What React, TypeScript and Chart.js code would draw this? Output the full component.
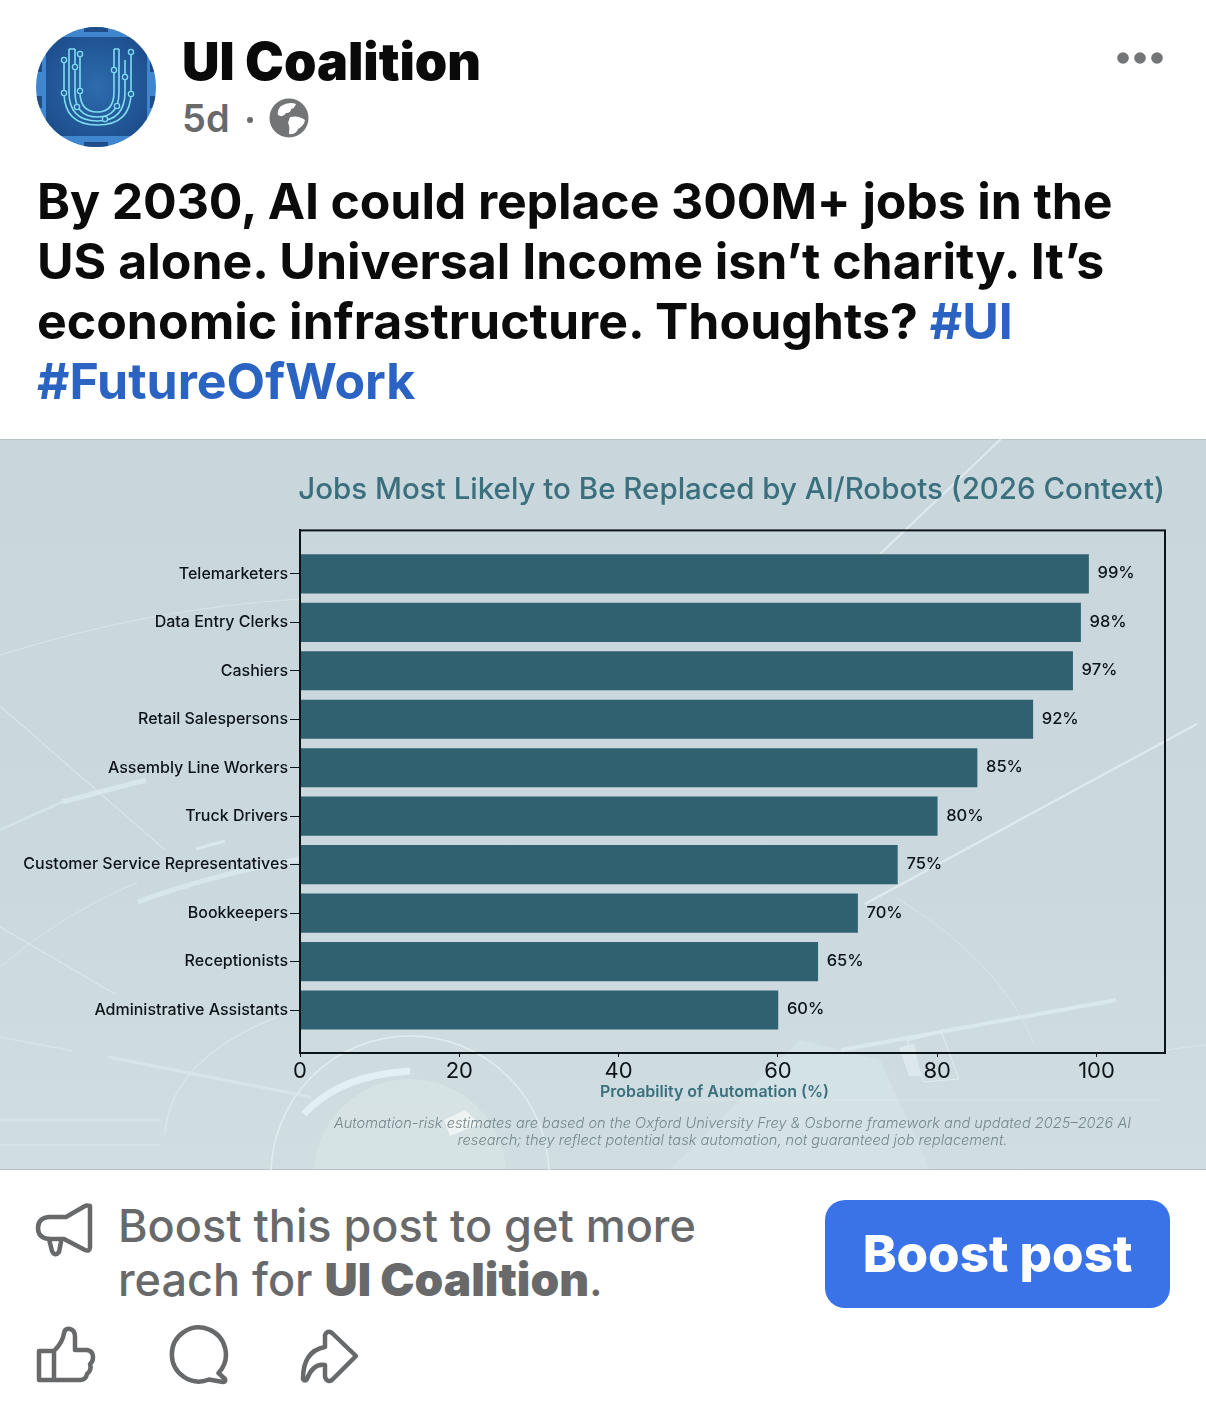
import React, { useEffect, useRef } from "react";
import { Chart, registerables } from "chart.js";

Chart.register(...registerables);

const jobs = [
  "Telemarketers",
  "Data Entry Clerks",
  "Cashiers",
  "Retail Salespersons",
  "Assembly Line Workers",
  "Truck Drivers",
  "Customer Service Representatives",
  "Bookkeepers",
  "Receptionists",
  "Administrative Assistants",
];
const probabilities = [99, 98, 97, 92, 85, 80, 75, 70, 65, 60];
const chartTitle = "Jobs Most Likely to Be Replaced by AI/Robots (2026 Context)";
const xAxisTitle = "Probability of Automation (%)";
const footnote = [
  "Automation-risk estimates are based on the Oxford University Frey & Osborne framework and updated 2025–2026 AI",
  "research; they reflect potential task automation, not guaranteed job replacement.",
];

const FONT = "Inter, 'Noto Sans', sans-serif";
const INK = "#0d1417";
const TEAL = "#3a6f7d";
const BAR = "#2f6170";
const GREY = "#68696b";

const framePlugin = {
  id: "frame",
  afterDatasetsDraw(chart: any) {
    const { ctx, chartArea: a } = chart;
    ctx.save();
    ctx.strokeStyle = INK;
    ctx.lineWidth = 2;
    ctx.strokeRect(a.left, a.top, a.right - a.left, a.bottom - a.top);
    ctx.restore();
  },
};

const valueLabelPlugin = {
  id: "valueLabels",
  afterDatasetsDraw(chart: any) {
    const { ctx } = chart;
    const meta = chart.getDatasetMeta(0);
    ctx.save();
    ctx.font = `500 16.5px ${FONT}`;
    ctx.fillStyle = INK;
    ctx.textBaseline = "middle";
    ctx.textAlign = "left";
    meta.data.forEach((bar: any, i: number) => {
      ctx.fillText(`${probabilities[i]}%`, bar.x + 9, bar.y - 0.5);
    });
    ctx.restore();
  },
};

const lowerTextPlugin = {
  id: "lowerText",
  afterDraw(chart: any) {
    const { ctx, chartArea: a } = chart;
    const mid = (a.left + a.right) / 2;
    ctx.save();
    ctx.textBaseline = "middle";
    ctx.textAlign = "center";
    ctx.font = `600 16px ${FONT}`;
    ctx.fillStyle = TEAL;
    ctx.fillText(xAxisTitle, mid - 18, a.bottom + 39);
    ctx.font = `italic 300 14.6px ${FONT}`;
    ctx.fillStyle = "#76878d";
    footnote.forEach((line, i) => ctx.fillText(line, mid, a.bottom + 71 + i * 16.5));
    ctx.restore();
  },
};

function BarChart() {
  const ref = useRef<HTMLCanvasElement>(null);
  useEffect(() => {
    const chart = new Chart(ref.current as HTMLCanvasElement, {
      type: "bar",
      data: {
        datasets: [
          {
            label: xAxisTitle,
            data: probabilities.map((v, i) => ({ x: v, y: i })),
            backgroundColor: BAR,
            barThickness: 38.5,
          },
        ],
      },
      options: {
        indexAxis: "y",
        animation: false,
        responsive: false,
        layout: { padding: { left: 0, right: 41, top: 0, bottom: 54 } },
        plugins: {
          legend: { display: false },
          tooltip: { enabled: false },
          title: {
            display: true,
            text: chartTitle,
            align: "end",
            color: TEAL,
            font: { family: FONT, size: 29.5, weight: "500" },
            padding: { top: 33, bottom: 23 },
          },
        },
        scales: {
          x: {
            type: "linear",
            min: 0,
            max: 108.6,
            afterFit(scale: any) {
              scale.height = 62;
            },
            border: { color: INK, width: 2 },
            grid: { drawOnChartArea: false, color: INK, tickLength: 4 },
            ticks: {
              stepSize: 20,
              includeBounds: false,
              maxRotation: 0,
              color: INK,
              padding: 1,
              font: { family: FONT, size: 22 },
            },
          },
          y: {
            type: "linear",
            reverse: true,
            offset: false,
            min: -0.897,
            max: 9.887,
            afterFit(scale: any) {
              scale.width = 300;
            },
            border: { color: INK, width: 2 },
            grid: { drawOnChartArea: false, color: INK, tickLength: 10, offset: false },
            ticks: {
              stepSize: 1,
              includeBounds: false,
              color: INK,
              padding: 2,
              autoSkip: false,
              font: { family: FONT, size: 16, weight: "500" },
              callback: (v: any) => jobs[v as number] ?? "",
            },
          },
        },
      },
      plugins: [framePlugin, valueLabelPlugin, lowerTextPlugin],
    } as any);
    return () => chart.destroy();
  }, []);
  return (
    <canvas
      ref={ref}
      width={1206}
      height={730}
      style={{ position: "absolute", left: 0, top: 439, width: 1206, height: 730, display: "block" }}
    />
  );
}

function Text({ x, y, size, weight, color, children, spacing }: any) {
  return (
    <div
      style={{
        position: "absolute",
        left: x,
        top: y,
        fontFamily: FONT,
        fontSize: size,
        fontWeight: weight,
        color,
        lineHeight: 1,
        whiteSpace: "nowrap",
        letterSpacing: spacing ?? 0,
      }}
    >
      {children}
    </div>
  );
}

function Backdrop() {
  return (
    <svg
      width={1206}
      height={731}
      viewBox="0 439 1206 731"
      style={{ position: "absolute", left: 0, top: 439, display: "block" }}
      fill="none"
    >
      <defs>
        <linearGradient id="panel" x1="0" y1="0" x2="0" y2="1">
          <stop offset="0" stopColor="#c9d7dc" />
          <stop offset="0.6" stopColor="#cbd9de" />
          <stop offset="1" stopColor="#d0dee2" />
        </linearGradient>
      </defs>
      <rect x={0} y={439} width={1206} height={731} fill="url(#panel)" />
      <path d="M670 1169L800 1040L880 1060L930 1169Z" fill="#d6e4e8" opacity={0.7} />
      <circle cx={410} cy={1175} r={96} fill="#dbe6e6" opacity={0.6} />
      <rect x={0} y={439} width={1206} height={1} fill="#b5c3c7" />
      <rect x={0} y={1169} width={1206} height={1} fill="#b5c0c4" />
      <g stroke="#e4eef0" strokeWidth={2} opacity={0.85}>
        <path d="M1001 439L880 554" />
        <path d="M1197 724L1049 804L865 904" />
        <path d="M0 655Q150 608 300 599" strokeWidth={1} opacity={0.7} />
        <path d="M0 706L165 850" strokeWidth={1} />
      </g>
      <path d="M62 802L146 780" stroke="#dff0f3" strokeWidth={5} opacity={0.6} />
      <path d="M0 830L62 802" stroke="#dcedf1" strokeWidth={3} opacity={0.5} />
      <path d="M196 849L225 841" stroke="#dcebef" strokeWidth={3} opacity={0.8} />
      <path d="M138 902Q210 875 300 859" stroke="#d9e9ed" strokeWidth={5} opacity={0.8} />
      <path d="M841 1050L1116 1000" stroke="#dbeaee" strokeWidth={4} opacity={0.85} />
      <path d="M1165 1050L1206 1045" stroke="#dbe7ea" strokeWidth={1} />
      <g stroke="#dbe7ea" strokeWidth={1.5} opacity={0.8}>
        <path d="M0 967Q60 915 138 882" strokeWidth={1} />
        <path d="M0 927L115 994" />
        <path d="M108 1057L311 1097" strokeWidth={3} />
        <path d="M0 1037L73 1051" />
        <path d="M165 1134Q170 1060 277 1017" />
        <path d="M0 1120L160 1120" />
        <path d="M0 1145L160 1145" />
        <path d="M895 897Q1000 960 1034 1044" strokeWidth={1} />
        <path d="M660 1100L1160 1100" strokeWidth={1} />
      </g>
      <path d="M304 1114Q340 1075 410 1071" stroke="#e3f0f3" strokeWidth={7} />
      <circle cx={410} cy={1175} r={139} stroke="#e1ecee" strokeWidth={1.5} />
      <path d="M444 1120L465 1110L480 1124L450 1136Z" fill="#eef4f3" />
      <path d="M907 1041L941 1031L959 1079L924 1082Z" stroke="#e1ecee" strokeWidth={1} />
      <path d="M899 1047L914 1044L921 1076L909 1076Z" fill="#dce8eb" />
    </svg>
  );
}

function Avatar() {
  const tracks = [
    "M64 60V92Q64 125 97.5 125Q131 125 131 92V52",
    "M69 49V92Q69 121 97.5 121Q125 121 125 92V60",
    "M75 49V92Q75 117 97.5 117Q119 117 119 92V49",
    "M80 54V92Q80 112 97.5 112Q114 112 114 92V49",
  ];
  return (
    <svg width={122} height={122} viewBox="35 27 122 122" style={{ position: "absolute", left: 35, top: 27 }} fill="none">
      <defs>
        <radialGradient id="avatarFill" cx="0.5" cy="0.5" r="0.65">
          <stop offset="0" stopColor="#2d6cae" />
          <stop offset="1" stopColor="#1c4c8a" />
        </radialGradient>
        <clipPath id="avatarClip">
          <circle cx={96} cy={87} r={60} />
        </clipPath>
      </defs>
      <circle cx={96} cy={87} r={60} fill="#3f86cf" />
      <g clipPath="url(#avatarClip)">
        <rect x={36} y={60} width={6} height={12} fill="#1f4d8a" />
        <rect x={36} y={96} width={6} height={12} fill="#1f4d8a" />
        <rect x={150} y={60} width={6} height={12} fill="#1f4d8a" />
        <rect x={150} y={96} width={6} height={12} fill="#1f4d8a" />
        <rect x={84} y={27} width={24} height={5} fill="#1f4d8a" />
        <rect x={84} y={142} width={24} height={5} fill="#1f4d8a" />
        <rect x={46} y={37} width={101} height={99} fill="url(#avatarFill)" />
      </g>
      {tracks.map((d, i) => (
        <path key={i} d={d} stroke="#7fdcf2" strokeWidth={1.6} />
      ))}
      <path d="M69 49H75M114 49H119" stroke="#7fdcf2" strokeWidth={1.6} />
      {[[64, 60], [75, 67], [80, 54], [64, 93], [80, 91], [131, 52], [125, 77], [114, 70], [131, 94], [77, 107], [117, 106], [105, 119]].map(([x, y], i) => (
        <circle key={i} cx={x} cy={y} r={2.6} fill="#245c9c" stroke="#7fdcf2" strokeWidth={1.3} />
      ))}
    </svg>
  );
}

function Header() {
  return (
    <>
      <Avatar />
      <Text x={182} y={36} size={52} weight={900} color="#0a0a0b">UI Coalition</Text>
      <Text x={182} y={99} size={38} weight={600} color={GREY}>5d</Text>
      <div style={{ position: "absolute", left: 247, top: 117, width: 6, height: 6, borderRadius: 3, background: GREY }} />
      <svg width={40} height={40} viewBox="0 0 40 40" style={{ position: "absolute", left: 269, top: 98 }}>
        <circle cx={20} cy={20} r={19.5} fill="#737476" />
        <path d="M12 8Q20 3 27 6Q25 11 22 11Q22 15 17 15Q14 20 9 17Q8 12 12 8ZM21 19Q30 17 36 22Q35 28 29 31Q27 37 20 36Q21 28 19 25Z" fill="#fff" />
      </svg>
      <svg width={50} height={14} viewBox="0 0 50 14" style={{ position: "absolute", left: 1115, top: 51 }}>
        <circle cx={8} cy={7} r={5.8} fill="#747577" />
        <circle cx={25} cy={7} r={5.8} fill="#747577" />
        <circle cx={42} cy={7} r={5.8} fill="#747577" />
      </svg>
    </>
  );
}

function PostText() {
  return (
    <>
      <Text x={37} y={176} size={50} weight={650} color="#0b0b0c" spacing={-0.12}>
        By 2030, AI could replace 300M+ jobs in the
      </Text>
      <Text x={37} y={236} size={50} weight={650} color="#0b0b0c">
        US alone. Universal Income isn’t charity. It’s
      </Text>
      <Text x={37} y={296} size={50} weight={650} color="#0b0b0c">
        economic infrastructure. Thoughts? <span style={{ color: "#2b63c2" }}>#UI</span>
      </Text>
      <Text x={37} y={356} size={50} weight={650} color="#2b63c2">#FutureOfWork</Text>
    </>
  );
}

function Footer() {
  const stroke = { stroke: GREY, strokeWidth: 4.5, fill: "none", strokeLinejoin: "round", strokeLinecap: "round" } as any;
  return (
    <>
      <svg width={60} height={60} viewBox="0 0 60 60" style={{ position: "absolute", left: 35, top: 1200 }}>
        <path {...stroke} d="M55 6Q52 5 50 6L31 17H14Q3 18 3 28Q3 38 14 39H29L50 50Q55 52 55 47Z" />
        <path {...stroke} d="M14 39L17 51Q20 57 24 52L26 42" />
      </svg>
      <Text x={118} y={1203} size={45} weight={500} color={GREY}>Boost this post to get more</Text>
      <Text x={118} y={1256} size={45} weight={500} color={GREY}>
        reach for <span style={{ fontWeight: 900, fontSize: 46 }}>UI Coalition</span>.
      </Text>
      <div
        style={{
          position: "absolute", left: 825, top: 1200, width: 345, height: 108, borderRadius: 20,
          background: "#3a73e8", color: "#fff", fontFamily: FONT, fontSize: 51, fontWeight: 800,
          display: "flex", alignItems: "center", justifyContent: "center", paddingBottom: 2, boxSizing: "border-box",
        }}
      >
        Boost post
      </div>
      <svg width={340} height={64} viewBox="0 0 340 64" style={{ position: "absolute", left: 35, top: 1325 }}>
        <path {...stroke} d="M4 26H19V55H4ZM19 26Q28 17 29 8Q30 3 35 4Q40 5 40 12V25H52Q58 26 58 32Q58 37 55 39Q57 45 52 49Q51 55 45 55H19" />
        <path {...stroke} d="M183.5 48A27 27 0 1 0 174 54.5L188 57Q191 57 190 54Z" />
        <path {...stroke} d="M268 54Q268 26 290 22V10Q292 5 297 8L321 31L297 55Q292 58 290 52V40Q278 38 272 54Q270 57 268 54Z" />
      </svg>
    </>
  );
}

export default function App() {
  useEffect(() => {
    document.body.style.margin = "0";
    document.body.style.background = "#fff";
  }, []);
  return (
    <div style={{ position: "absolute", left: 0, top: 0, width: 1206, height: 1422, overflow: "hidden", background: "#fff" }}>
      <Header />
      <PostText />
      <Backdrop />
      <BarChart />
      <Footer />
    </div>
  );
}
